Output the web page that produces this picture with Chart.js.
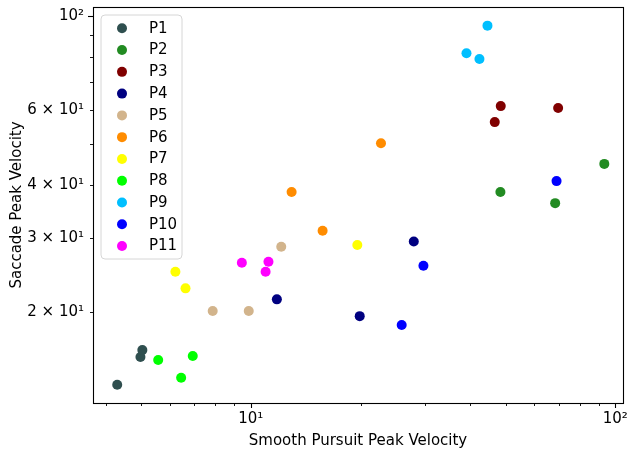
<!DOCTYPE html>
<html><head><meta charset="utf-8">
<script src="https://cdn.jsdelivr.net/npm/chart.js@4"></script>
<style>html,body{margin:0;padding:0;background:#fff;overflow:hidden}#wrap{width:628px;height:452px;position:relative}</style>
</head><body><div id="wrap"><canvas id="c"></canvas></div>
<script>
// ---- data ----
const participants = ['P1','P2','P3','P4','P5','P6','P7','P8','P9','P10','P11'];
const colors = ['#2F4F4F','#228B22','#800000','#000080','#D2B48C','#FF8C00','#FFFF00','#00FF00','#00BFFF','#0000FF','#FF00FF'];
const pursuitVel = [
  [4.30, 4.98, 5.04],
  [93.3, 48.4, 68.4],
  [48.5, 46.7, 69.7],
  [11.79, 28.0, 19.9],
  [7.86, 9.87, 12.12],
  [22.76, 12.94, 15.74],
  [6.21, 6.62, 19.6],
  [5.57, 6.93, 6.44],
  [44.6, 39.06, 42.4],
  [29.76, 25.94, 69.0],
  [9.45, 11.18, 10.98]
];
const saccadeVel = [
  [13.5, 15.70, 16.30],
  [44.8, 38.45, 36.2],
  [61.3, 56.2, 60.7],
  [21.47, 29.4, 19.6],
  [20.15, 20.15, 28.57],
  [50.1, 38.45, 31.16],
  [24.94, 22.79, 28.84],
  [15.44, 15.78, 14.03],
  [94.9, 81.7, 79.2],
  [25.77, 18.67, 40.8],
  [26.19, 26.34, 24.94]
];
const xLabeledTicks = [10, 100];
const xTickLabels = ['10¹', '10²'];
const xMajorTicks = [10, 100];
const xMinorTicks = [4,5,6,7,8,9,20,30,40,50,60,70,80,90];
const yLabeledTicks = [20, 30, 40, 60, 100];
const yTickLabels = ['2 × 10¹', '3 × 10¹', '4 × 10¹', '6 × 10¹', '10²'];
const yMajorTicks = [100];
const yMinorTicks = [20,30,40,50,60,70,80,90];
const xLimits = [3.69, 105];
const yLimits = [12.23, 105];
const xTitle = 'Smooth Pursuit Peak Velocity';
const yTitle = 'Saccade Peak Velocity';

// ---- chart ----
const FONT = "'DejaVu Sans', sans-serif";
const FS = 15;
const datasets = participants.map((name, i) => ({
  label: name,
  data: pursuitVel[i].map((xv, j) => ({x: xv, y: saccadeVel[i][j]})),
  backgroundColor: colors[i],
  borderColor: colors[i],
  borderWidth: 0,
  pointRadius: 5,
  order: participants.length - i
}));

const framePlugin = {
  id: 'frameTicksLegend',
  afterDraw(chart) {
    const {ctx, chartArea: a, scales: {x, y}} = chart;
    ctx.save();
    ctx.strokeStyle = '#000';
    const seg = (x1, y1, x2, y2, w) => {
      ctx.lineWidth = w; ctx.beginPath(); ctx.moveTo(x1, y1); ctx.lineTo(x2, y2); ctx.stroke();
    };
    xMinorTicks.forEach(v => { const p = Math.round(x.getPixelForValue(v)) + 0.5; seg(p, a.bottom, p, a.bottom + 3, 0.9); });
    xMajorTicks.forEach(v => { const p = Math.round(x.getPixelForValue(v)) + 0.5; seg(p, a.bottom, p, a.bottom + 5, 1.1); });
    yMinorTicks.forEach(v => { const p = Math.round(y.getPixelForValue(v)) + 0.5; seg(a.left, p, a.left - 3, p, 0.9); });
    yMajorTicks.forEach(v => { const p = Math.round(y.getPixelForValue(v)) + 0.5; seg(a.left, p, a.left - 5, p, 1.1); });
    ctx.lineWidth = 1.1;
    ctx.strokeRect(Math.round(a.left) + 0.5, Math.round(a.top) + 0.5, Math.round(a.right - a.left), Math.round(a.bottom - a.top));

    // legend (upper left, inside axes)
    const lx = a.left + 8, ly = a.top + 8, lw = 81, lh = 244, r = 4;
    ctx.beginPath();
    ctx.moveTo(lx + r, ly);
    ctx.arcTo(lx + lw, ly, lx + lw, ly + lh, r);
    ctx.arcTo(lx + lw, ly + lh, lx, ly + lh, r);
    ctx.arcTo(lx, ly + lh, lx, ly, r);
    ctx.arcTo(lx, ly, lx + lw, ly, r);
    ctx.closePath();
    ctx.fillStyle = 'rgba(255,255,255,0.8)';
    ctx.fill();
    ctx.strokeStyle = '#d6d6d6';
    ctx.lineWidth = 1;
    ctx.stroke();
    ctx.font = FS + 'px ' + FONT;
    ctx.textBaseline = 'middle';
    ctx.textAlign = 'left';
    chart.data.datasets.forEach((ds, i) => {
      const cy = ly + 13.3 + i * 21.77;
      ctx.fillStyle = ds.backgroundColor;
      ctx.beginPath(); ctx.arc(lx + 21, cy, 5, 0, Math.PI * 2); ctx.fill();
      ctx.fillStyle = '#000';
      ctx.fillText(ds.label, lx + 48, cy + 0.5);
    });
    ctx.restore();
  }
};

new Chart(document.getElementById('c'), {
  type: 'scatter',
  data: {datasets},
  options: {
    responsive: true,
    maintainAspectRatio: false,
    animation: false,
    devicePixelRatio: 1,
    layout: {padding: {left: 0, top: 7, right: 4, bottom: 0}},
    plugins: {legend: {display: false}, tooltip: {enabled: false}},
    scales: {
      x: {
        type: 'logarithmic',
        min: xLimits[0], max: xLimits[1],
        bounds: 'data',
        grid: {display: false, drawTicks: false},
        border: {display: false},
        afterBuildTicks: s => { s.ticks = xLabeledTicks.map(v => ({value: v})); },
        afterFit: s => { s.height = 49; s.paddingLeft = 0; s.paddingRight = 0; },
        ticks: {
          autoSkip: false, maxRotation: 0, padding: 7,
          color: '#000', font: {family: FONT, size: FS},
          callback: v => { const k = xLabeledTicks.indexOf(v); return k >= 0 ? xTickLabels[k] : ''; }
        },
        title: {display: true, text: xTitle, color: '#000', font: {family: FONT, size: FS}, padding: {top: 0, bottom: 2}}
      },
      y: {
        type: 'logarithmic',
        min: yLimits[0], max: yLimits[1],
        bounds: 'data',
        grid: {display: false, drawTicks: false},
        border: {display: false},
        afterBuildTicks: s => { s.ticks = yLabeledTicks.map(v => ({value: v})); },
        afterFit: s => { s.width = 93; s.paddingTop = 0; s.paddingBottom = 0; },
        ticks: {
          autoSkip: false, padding: 9,
          color: '#000', font: {family: FONT, size: FS},
          callback: v => { const k = yLabeledTicks.indexOf(v); return k >= 0 ? yTickLabels[k] : ''; }
        },
        title: {display: true, text: yTitle, color: '#000', font: {family: FONT, size: FS}, padding: {top: 8, bottom: 0}}
      }
    }
  },
  plugins: [framePlugin]
});
</script></body></html>
